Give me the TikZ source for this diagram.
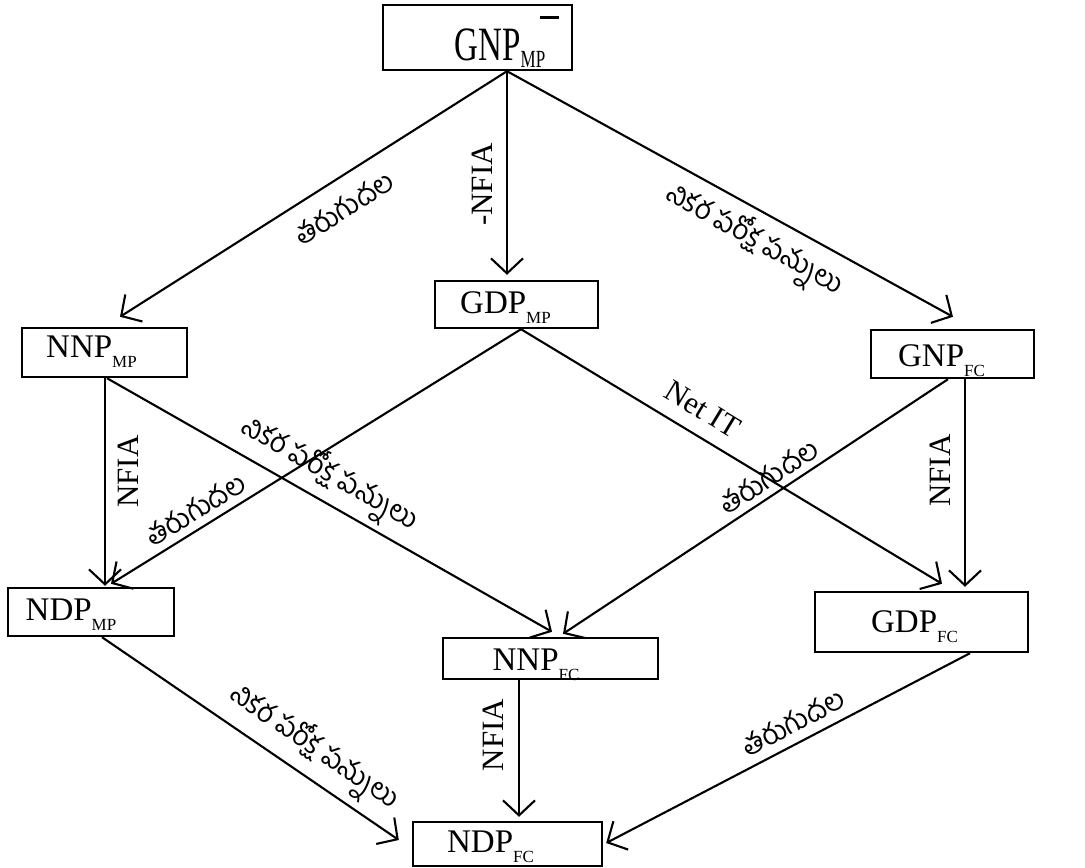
\documentclass[tikz,border=0pt]{standalone}
\usepackage{fontspec}
\usepackage{graphicx}
\setmainfont{Liberation Serif}
\newfontfamily\te[Script=Telugu]{Hind Guntur}
\usetikzlibrary{arrows.meta}
\newcommand{\bxl}[3][-10pt]{\fontsize{33pt}{33pt}\selectfont #2\raisebox{#1}{\fontsize{17pt}{17pt}\selectfont #3}}
\begin{document}
\begin{tikzpicture}[x=1pt,y=-1pt,
 bx/.style={draw, line width=2.4pt, inner sep=0pt, text height=#1, text depth=0pt},
 ln/.style={line width=2.1pt, -{Straight Barb[length=15pt,width=32pt,line width=2.1pt]}},
 el/.style={font=\fontsize{31pt}{31pt}\selectfont, inner sep=0pt},
 tl/.style={font=\te\fontsize{28pt}{28pt}\selectfont, inner sep=0pt}]
\useasboundingbox (0,0) rectangle (1085,868);
% boxes
\node[bx=45pt, minimum width=189pt, minimum height=65pt] (gnpmp) at (477.5,37.5)
  {\hspace*{40pt}\scalebox{1}[1.45]{\bxl[-5pt]{GNP}{MP}}\hspace{-5pt}\rlap{\raisebox{41pt}{\rule{19pt}{2.8pt}}}};
\node[bx=17pt, minimum width=163pt, minimum height=47pt] (gdpmp) at (516.5,304.5) {\bxl{GDP}{MP}\hspace*{22pt}};
\node[bx=9pt, minimum width=165pt, minimum height=49pt] (nnpmp) at (104.5,352.5) {\bxl{NNP}{MP}\hspace*{26pt}};
\node[bx=24pt, minimum width=163pt, minimum height=48pt] (gnpfc) at (952.5,354) {\bxl{GNP}{FC}\hspace*{22pt}};
\node[bx=16pt, minimum width=166pt, minimum height=48pt] (ndpmp) at (91,612) {\bxl{NDP}{MP}\hspace*{40pt}};
\node[bx=20pt, minimum width=213pt, minimum height=60pt] (gdpfc) at (921.5,622) {\bxl{GDP}{FC}\hspace*{14pt}};
\node[bx=23pt, minimum width=215pt, minimum height=41pt] (nnpfc) at (550.5,658.5) {\bxl{NNP}{FC}\hspace*{29pt}};
\node[bx=16pt, minimum width=189pt, minimum height=44pt] (ndpfc) at (507.5,844) {\bxl{NDP}{FC}\hspace*{34pt}};
% connectors
\draw[ln] ([xshift=29.5pt]gnpmp.south) -- ([xshift=15.5pt,yshift=10pt]nnpmp.north)
  node[tl, sloped, pos=0.46, below=16pt] {తరుగుదల};
\draw[ln] ([xshift=29.5pt]gnpmp.south) -- ([xshift=-9.5pt,yshift=5pt]gdpmp.north)
  node[el, pos=0.556, xshift=-25pt, rotate=90] {-NFIA};
\draw[ln] ([xshift=29.5pt]gnpmp.south) -- ([xshift=0.5pt,yshift=12pt]gnpfc.north)
  node[tl, sloped, pos=0.585, below=8pt] {నికర పరోక్ష పన్నులు};
\draw[ln] ([xshift=0.5pt]nnpmp.south) -- ([xshift=14pt,yshift=1pt]ndpmp.north)
  node[el, pos=0.45, xshift=23pt, rotate=90] {NFIA};
\draw[ln] ([xshift=2.5pt]nnpmp.south) -- ([xshift=1.5pt,yshift=5pt]nnpfc.north)
  node[tl, sloped, pos=0.47, above=5pt] {నికర పరోక్ష పన్నులు};
\draw[ln] ([xshift=4.5pt]gdpmp.south) -- ([xshift=20pt,yshift=3pt]ndpmp.north)
  node[tl, sloped, pos=0.77, above=7pt] {తరుగుదల};
\draw[ln] ([xshift=4.5pt]gdpmp.south) -- ([xshift=20.5pt,yshift=7pt]gdpfc.north)
  node[el, sloped, pos=0.40, above=14pt] {Net IT};
\draw[ln] ([xshift=-4.5pt]gnpfc.south) -- ([xshift=12.5pt,yshift=3pt]nnpfc.north)
  node[tl, sloped, pos=0.44, above=6pt] {తరుగుదల};
\draw[ln] ([xshift=12.5pt]gnpfc.south) -- ([xshift=43.5pt,yshift=4pt]gdpfc.north)
  node[el, pos=0.44, xshift=-25pt, rotate=90] {NFIA};
\draw[ln] ([xshift=11pt]ndpmp.south) -- ([xshift=-13pt,yshift=4pt]ndpfc.west)
  node[tl, sloped, pos=0.66, above=7pt] {నికర పరోక్ష పన్నులు};
\draw[ln] ([xshift=-31.5pt]nnpfc.south) -- ([xshift=11.5pt,yshift=4pt]ndpfc.north)
  node[el, pos=0.4, xshift=-26pt, rotate=90] {NFIA};
\draw[ln] ([xshift=48.5pt]gdpfc.south) -- ([xshift=3pt,yshift=1pt]ndpfc.east)
  node[tl, sloped, pos=0.46, above=9pt] {తరుగుదల};
\end{tikzpicture}
\end{document}
